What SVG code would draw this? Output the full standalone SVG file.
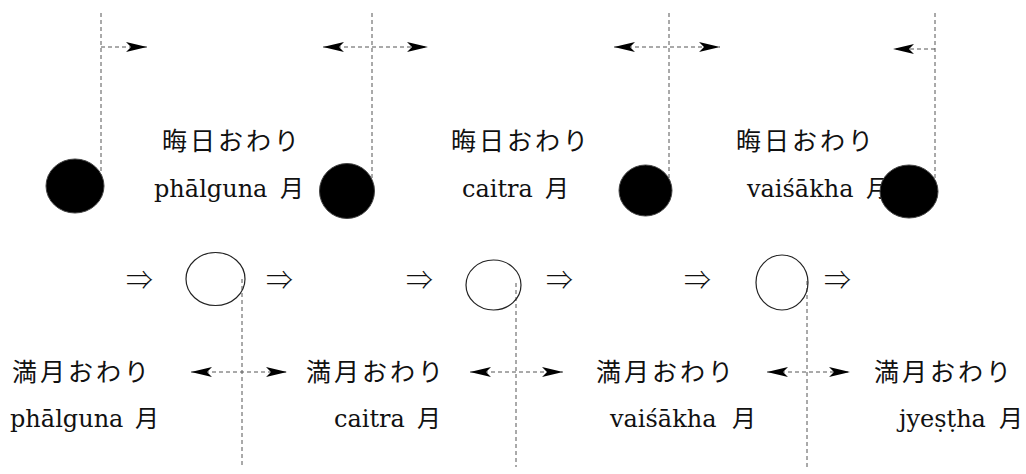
<svg xmlns="http://www.w3.org/2000/svg" width="1026" height="474" viewBox="0 0 1026 474">
<style>
.jp{font-family:"Noto Sans CJK JP","DejaVu Serif",sans-serif;font-size:25px;letter-spacing:3px;fill:#111}
.lt{font-family:"DejaVu Serif","Noto Sans CJK JP",serif;font-size:24px;fill:#111}
.imp{font-family:"Noto Sans CJK JP","DejaVu Sans",sans-serif;font-size:27px;font-weight:300;fill:#111}
.dash{stroke:#555;stroke-width:1;stroke-dasharray:4 3;fill:none}
.new{fill:#000;stroke:#444;stroke-width:1}
.full{fill:none;stroke:#222;stroke-width:1.2}
</style>
<defs>
<marker id="ah" viewBox="-22 -6 24 12" refX="0" refY="0" markerWidth="24" markerHeight="12" markerUnits="userSpaceOnUse" orient="auto-start-reverse">
<path d="M0,0 L-21,-5 L-16,0 L-21,5 Z" fill="#000"/>
</marker>
</defs>
<rect width="1026" height="474" fill="#fff"/>
<g id="connectors">
<line class="dash" x1="101" y1="13" x2="101" y2="186"/>
<line class="dash" x1="372" y1="13" x2="372" y2="191"/>
<line class="dash" x1="669" y1="13" x2="669" y2="191"/>
<line class="dash" x1="935" y1="13" x2="935" y2="191"/>
<line class="dash" x1="101" y1="47" x2="147" y2="47" marker-end="url(#ah)"/>
<line class="dash" x1="323" y1="47" x2="428" y2="47" marker-start="url(#ah)" marker-end="url(#ah)"/>
<line class="dash" x1="614" y1="47" x2="720" y2="47" marker-start="url(#ah)" marker-end="url(#ah)"/>
<line class="dash" x1="935" y1="49" x2="893" y2="49" marker-end="url(#ah)"/>
<line class="dash" x1="242" y1="279" x2="242" y2="467"/>
<line class="dash" x1="516" y1="283" x2="516" y2="467"/>
<line class="dash" x1="807" y1="281" x2="807" y2="467"/>
<line class="dash" x1="191" y1="372" x2="287" y2="372" marker-start="url(#ah)" marker-end="url(#ah)"/>
<line class="dash" x1="470" y1="372" x2="563" y2="372" marker-start="url(#ah)" marker-end="url(#ah)"/>
<line class="dash" x1="767" y1="372" x2="850" y2="372" marker-start="url(#ah)" marker-end="url(#ah)"/>
</g>
<g id="label-new-1"><text class="jp" x="162" y="150">晦日おわり</text><text class="lt" x="154" y="197">phālguna <tspan x="280">月</tspan></text></g>
<g id="label-new-2"><text class="jp" x="451" y="150">晦日おわり</text><text class="lt" x="462" y="197">caitra <tspan x="545">月</tspan></text></g>
<g id="label-new-3"><text class="jp" x="736" y="150">晦日おわり</text><text class="lt" x="747" y="197">vaiśākha <tspan x="866">月</tspan></text></g>
<g id="new-moon-1"><ellipse class="new" cx="75" cy="186" rx="29" ry="27"/></g>
<g id="new-moon-2"><ellipse class="new" cx="347" cy="191" rx="27.5" ry="27.5"/></g>
<g id="new-moon-3"><ellipse class="new" cx="645.5" cy="190.5" rx="26.5" ry="25.5"/></g>
<g id="new-moon-4"><ellipse class="new" cx="909" cy="191.5" rx="29" ry="26.5"/></g>
<g id="full-moon-1"><ellipse class="full" cx="215.5" cy="279" rx="29.5" ry="26.5"/></g>
<g id="full-moon-2"><ellipse class="full" cx="493.5" cy="285" rx="27.5" ry="25"/></g>
<g id="full-moon-3"><ellipse class="full" cx="782" cy="282.5" rx="26" ry="27.5"/></g>
<g id="implies">
<text class="imp" x="126" y="290">⇒</text>
<text class="imp" x="266" y="290">⇒</text>
<text class="imp" x="406" y="290">⇒</text>
<text class="imp" x="546" y="290">⇒</text>
<text class="imp" x="684" y="290">⇒</text>
<text class="imp" x="824" y="290">⇒</text>
</g>
<g id="label-full-1"><text class="jp" x="12" y="381">満月おわり</text><text class="lt" x="10" y="427">phālguna <tspan x="135">月</tspan></text></g>
<g id="label-full-2"><text class="jp" x="306" y="381">満月おわり</text><text class="lt" x="334" y="427">caitra <tspan x="417">月</tspan></text></g>
<g id="label-full-3"><text class="jp" x="596" y="381">満月おわり</text><text class="lt" x="610" y="427">vaiśākha <tspan x="732">月</tspan></text></g>
<g id="label-full-4"><text class="jp" x="874" y="381">満月おわり</text><text class="lt" x="899" y="427">jyeṣṭha <tspan x="999">月</tspan></text></g>
</svg>
